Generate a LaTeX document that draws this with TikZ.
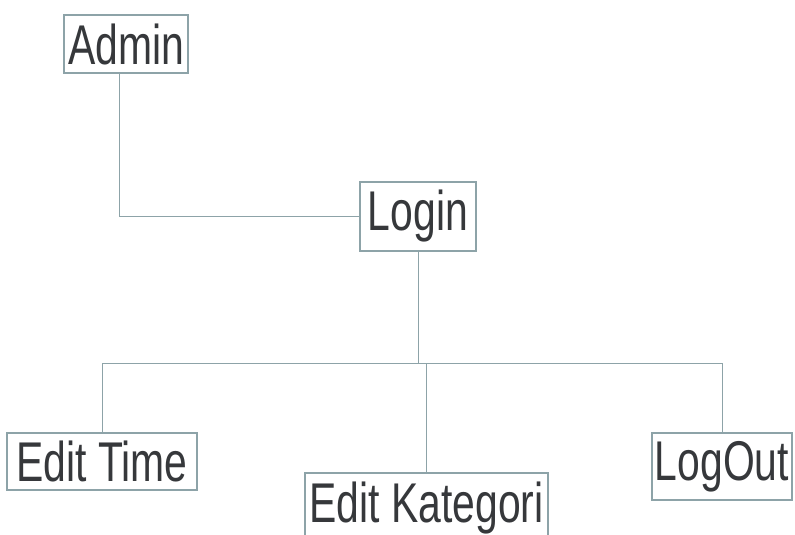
\documentclass[tikz,border=0pt]{standalone}
\usepackage{fontspec}
\setmainfont{Liberation Sans}[FakeStretch=0.73]
\definecolor{inkgray}{HTML}{36383B}
\definecolor{rulegray}{HTML}{8DA3A8}
\begin{document}
\begin{tikzpicture}[x=1pt,y=-1pt,
  menubox/.style={draw=rulegray,line width=1.1pt,fill=white,inner sep=0pt,
    text=inkgray,font=\fontsize{56}{62}\selectfont},
  link/.style={draw=rulegray,line width=0.9pt}]
\clip (0,0) rectangle (795,535);
\fill[white] (0,0) rectangle (795,535);

\node[menubox,minimum width=124pt,minimum height=58pt] (admin) at (126,44) {Admin};
\node[menubox,minimum width=116pt,minimum height=69pt] (login) at (418,216.5) {Login};
\node[menubox,minimum width=190pt,minimum height=57pt] (time) at (102,461.5) {Edit Time};
\node[menubox,minimum width=243pt,minimum height=70pt] (kat) at (426.5,508) {Edit Kategori};
\node[menubox,minimum width=140pt,minimum height=67pt] (logout) at (722,466.5) {LogOut};

% Admin to Login
\coordinate (adminfoot) at (119,73);
\draw[link] (adminfoot) |- (login.west);

% Login to the three menu entries through one bus line
\coordinate (bus) at (418,363);
\draw[link] (login.south) -- (bus);
\draw[link] (time.north) -- (time.north |- bus) -- (logout.north |- bus) -- (logout.north);
\draw[link] (kat.north) -- (kat.north |- bus);
\end{tikzpicture}
\end{document}
